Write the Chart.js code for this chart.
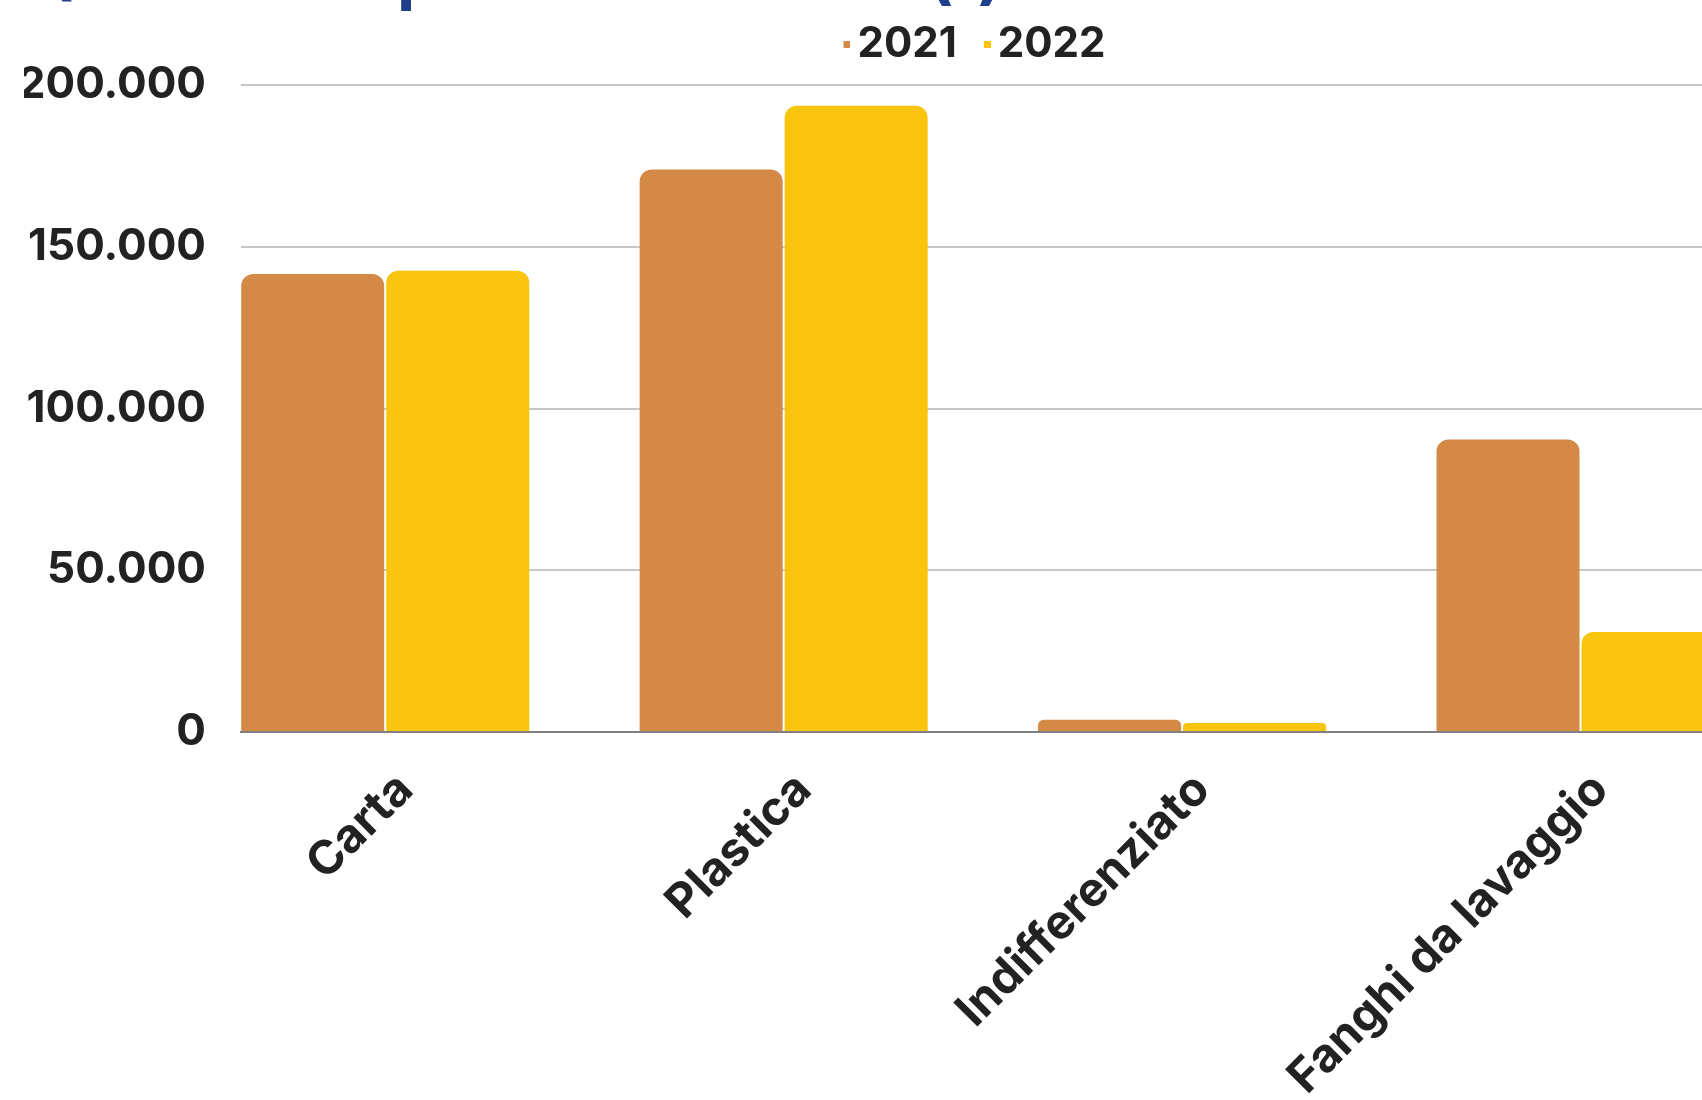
<!DOCTYPE html>
<html lang="it">
<head>
<meta charset="UTF-8">
<title>Rifiuti 2021 - 2022</title>
<style>
  html, body { margin: 0; padding: 0; background: #fff; overflow: hidden; }
  body { width: 1702px; height: 1100px; position: relative; }
  #wrap { position: absolute; left: 0; top: -100px; width: 1916px; height: 1232px; }
</style>
</head>
<body>
<div id="wrap"><canvas id="chart"></canvas></div>
<script src="https://cdn.jsdelivr.net/npm/chart.js"></script>
<script>
// data (t)
const categories = ['Carta', 'Plastica', 'Indifferenziato', 'Fanghi da lavaggio'];
const years = ['2021', '2022'];
const values2021 = [141600, 173900, 3800, 90400];
const values2022 = [142600, 193600, 2800, 30900];
const yTicks = [0, 50000, 100000, 150000, 200000];

const colors = ['#D48947', '#F9C40E'];
const textColor = '#222222';
const fontFamily = 'Inter, "DejaVu Sans", sans-serif';

// small square legend marker, drawn on the right side of its canvas so the text sits close to it
function marker(color) {
    const c = document.createElement('canvas');
    c.width = 30;
    c.height = 7;
    const g = c.getContext('2d');
    g.fillStyle = color;
    g.fillRect(23, 0, 7, 7);
    return c;
}
const markers = colors.map(marker);

function fmt(v) {
    return String(v).replace(/\B(?=(\d{3})+(?!\d))/g, '.');
}

// extra space under the legend
const legendGap = {
    id: 'legendGap',
    beforeInit(chart) {
        const fit = chart.legend.fit;
        chart.legend.fit = function () {
            fit.call(this);
            this.height += 9.7;
        };
    }
};

new Chart(document.getElementById('chart'), {
    type: 'bar',
    data: {
        labels: categories.map((c, i) => i),
        datasets: [
            { label: years[0], data: values2021, backgroundColor: colors[0] },
            { label: years[1], data: values2022, backgroundColor: colors[1] }
        ]
    },
    options: {
        responsive: true,
        maintainAspectRatio: false,
        animation: false,
        layout: { padding: { left: 24, right: 0, top: 0, bottom: 0 } },
        datasets: {
            bar: {
                categoryPercentage: 0.728,
                barPercentage: 0.986,
                borderRadius: 12,
                borderSkipped: 'start'
            }
        },
        plugins: {
            title: {
                display: true,
                text: 'Quantità di prodotti smaltiti (t)',
                align: 'start',
                color: '#1F3D8A',
                font: { family: fontFamily, size: 67, weight: '700', lineHeight: 0.6 },
                padding: { top: 56.8, bottom: 8.3 }
            },
            legend: {
                position: 'top',
                labels: {
                    usePointStyle: true,
                    boxWidth: 2,
                    boxHeight: 7,
                    padding: 18,
                    color: textColor,
                    font: { family: fontFamily, size: 42, weight: '700' },
                    generateLabels(chart) {
                        return Chart.defaults.plugins.legend.labels.generateLabels(chart)
                            .map((item, i) => ({ ...item, pointStyle: markers[i] }));
                    }
                }
            },
            tooltip: { enabled: false }
        },
        scales: {
            x: {
                type: 'linear',
                offset: false,
                min: -0.362,
                max: 3.842,
                grid: { display: false },
                border: { display: true, color: '#7F7F7F', width: 2 },
                ticks: {
                    stepSize: 1,
                    includeBounds: false,
                    autoSkip: false,
                    maxRotation: 45,
                    minRotation: 45,
                    padding: 22,
                    labelOffset: 20,
                    color: textColor,
                    font: { family: fontFamily, size: 47, weight: '700' },
                    callback: v => categories[v] ?? ''
                },
                afterFit(scale) { scale.height = 400; }
            },
            y: {
                min: 0,
                max: 200000,
                grid: { color: '#C8C8C8', lineWidth: 2, drawTicks: false },
                border: { display: false },
                ticks: {
                    stepSize: 50000,
                    padding: 35,
                    color: textColor,
                    font: { family: fontFamily, size: 44, weight: '700' },
                    callback: v => yTicks.includes(v) ? fmt(v) : ''
                },
                afterFit(scale) { scale.width = 217; }
            }
        }
    },
    plugins: [legendGap]
});
</script>
</body>
</html>
